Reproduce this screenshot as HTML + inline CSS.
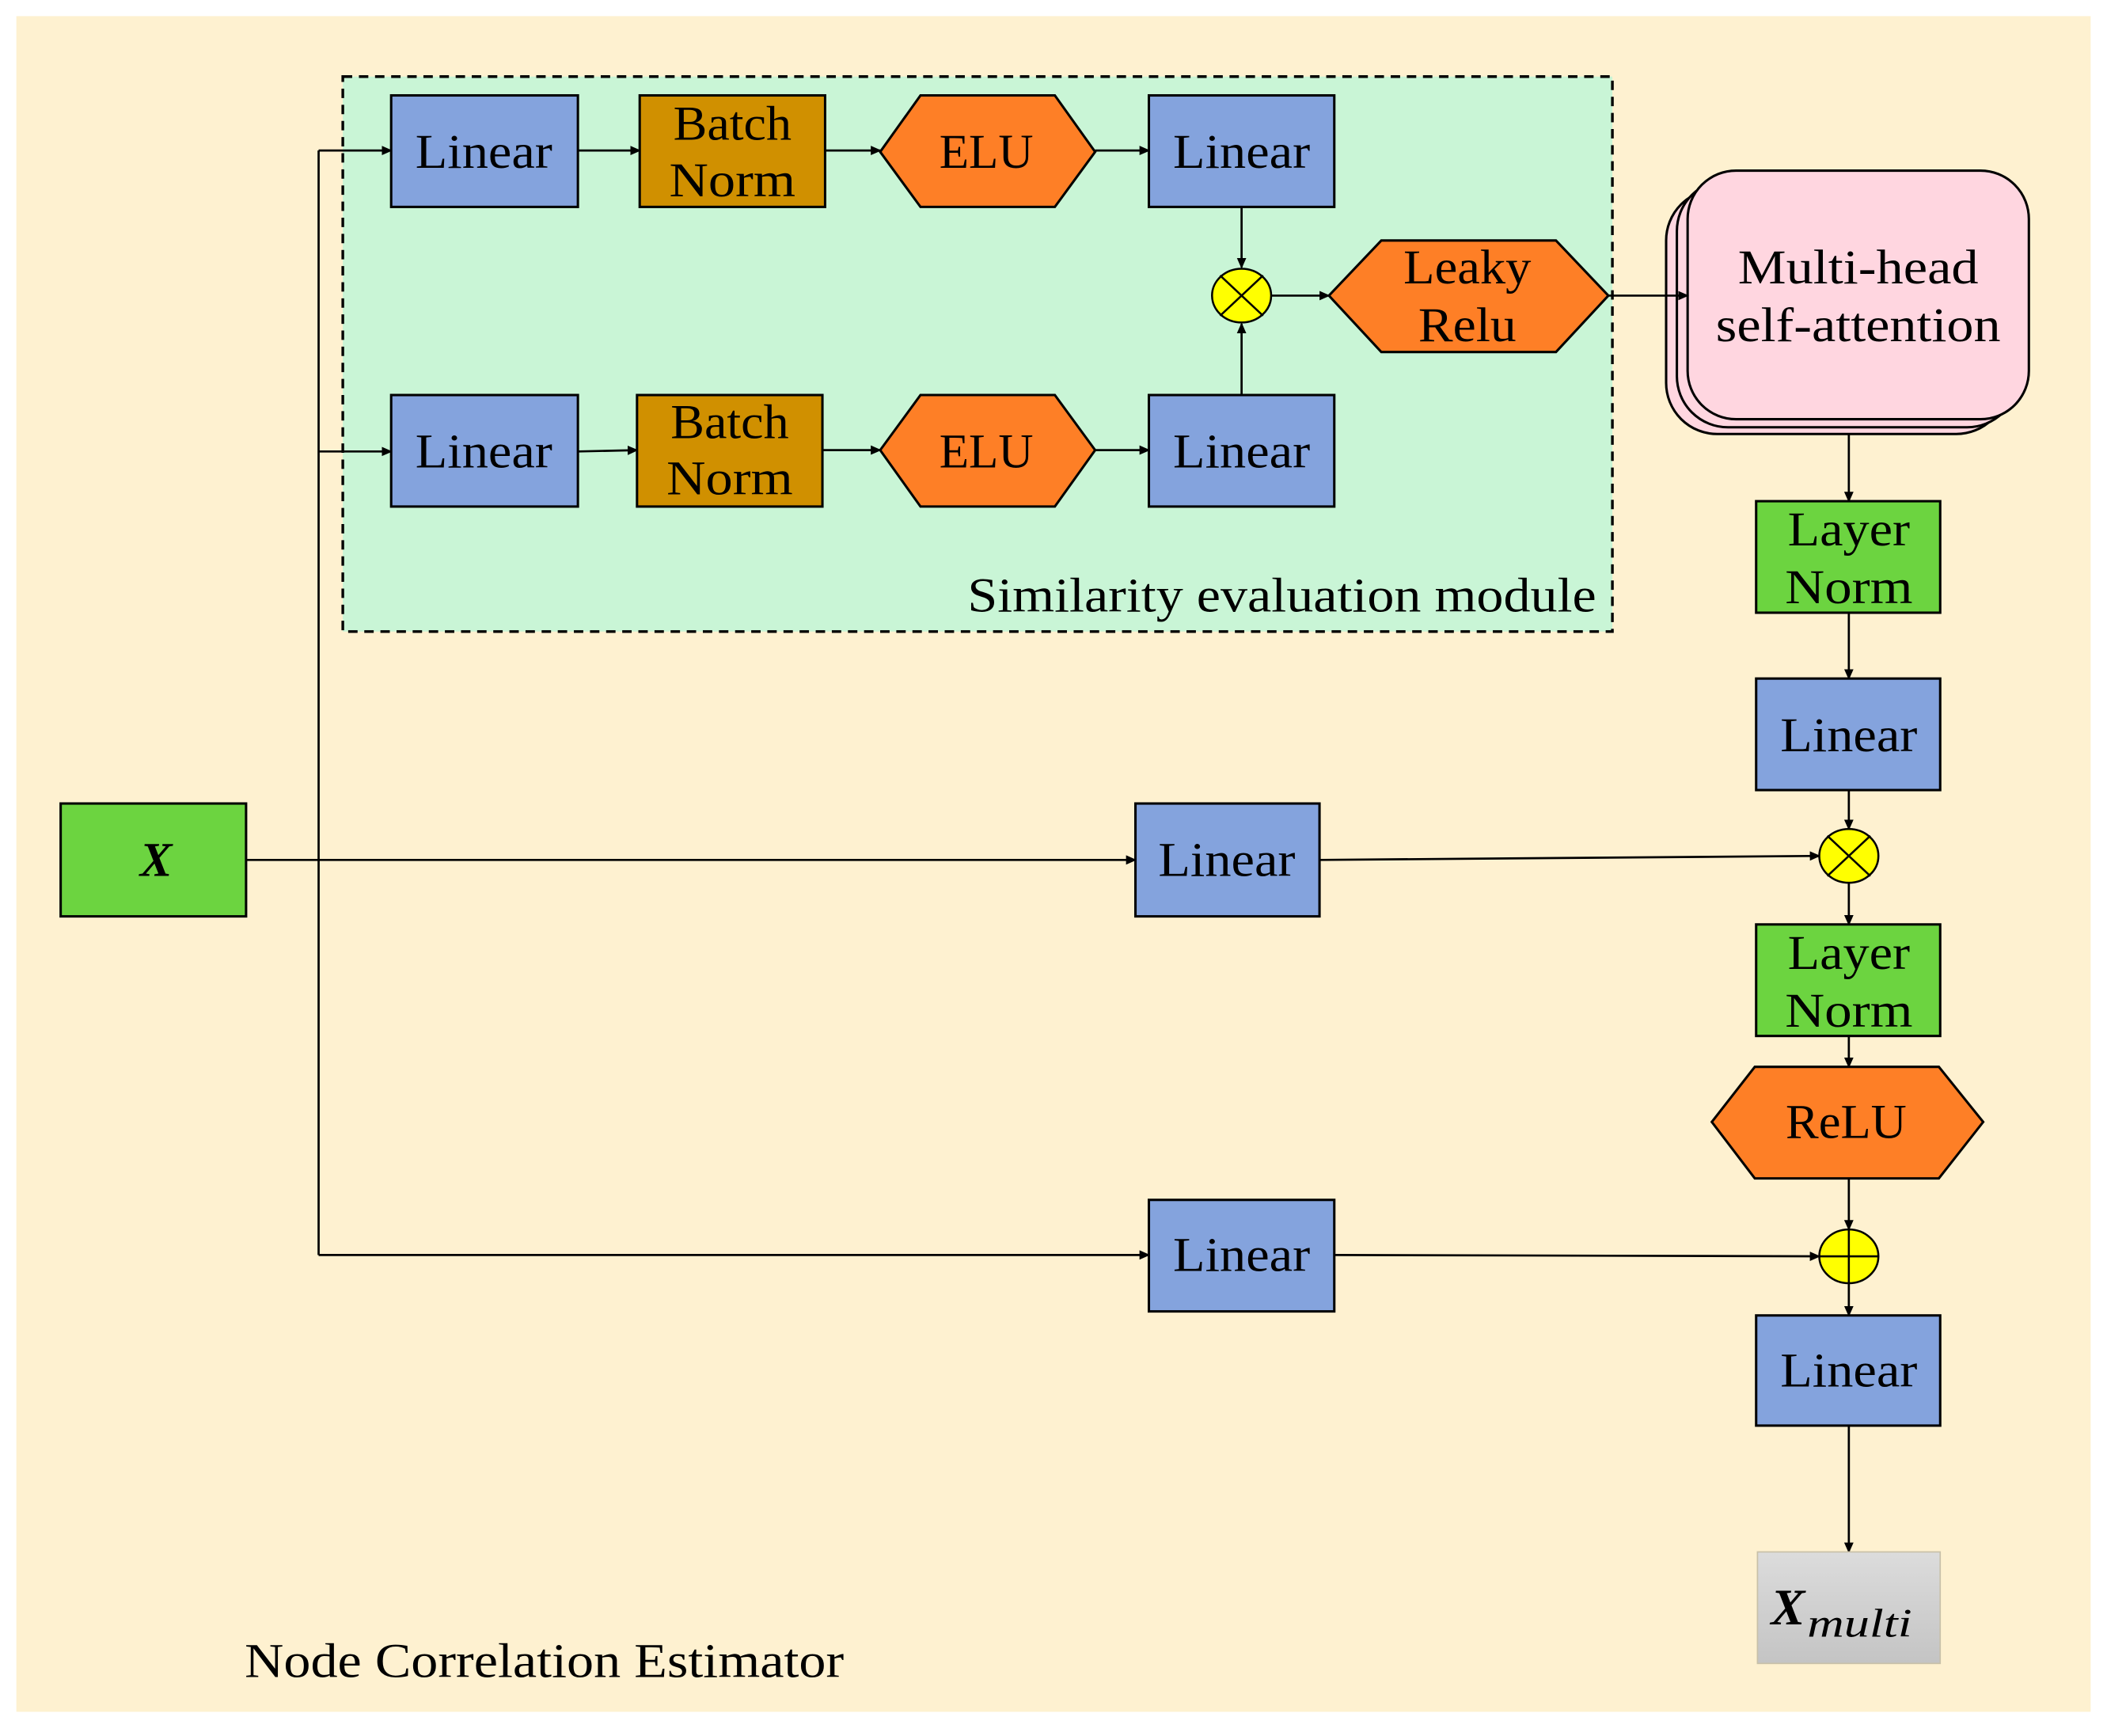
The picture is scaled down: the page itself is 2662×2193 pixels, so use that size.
<!DOCTYPE html>
<html><head><meta charset="utf-8">
<style>
html,body{margin:0;padding:0;background:#fff;}
svg{display:block;}
text{font-family:"Liberation Serif",serif;fill:#000;}
</style></head>
<body>
<svg width="2662" height="2193" viewBox="0 0 1568 1292" xmlns="http://www.w3.org/2000/svg">
<defs>
<marker id="a" markerWidth="8" markerHeight="8" refX="7" refY="4" orient="auto" markerUnits="userSpaceOnUse">
<path d="M0,0.5 L8,4 L0,7.5 Z" fill="#000"/>
</marker>
<linearGradient id="g" x1="0" y1="0" x2="0" y2="1">
<stop offset="0" stop-color="#dcdcdc"/><stop offset="1" stop-color="#c4c4c4"/>
</linearGradient>
</defs>
<rect x="0" y="0" width="1568" height="1292" fill="#fff"/>
<rect x="12" y="12" width="1544" height="1262" fill="#FEF1D0"/>
<rect x="255" y="57" width="945" height="413" fill="#C9F5D6" stroke="#000" stroke-width="2" stroke-dasharray="7,5"/>

<g stroke="#000" stroke-width="1.6" fill="none">
<line x1="237" y1="112" x2="237" y2="934"/>
<line x1="183" y1="640" x2="845" y2="640" marker-end="url(#a)"/>
<line x1="237" y1="112" x2="291" y2="112" marker-end="url(#a)"/>
<line x1="237" y1="336" x2="291" y2="336" marker-end="url(#a)"/>
<line x1="237" y1="934" x2="855" y2="934" marker-end="url(#a)"/>
<line x1="430" y1="112" x2="476" y2="112" marker-end="url(#a)"/>
<line x1="614" y1="112" x2="655" y2="112" marker-end="url(#a)"/>
<line x1="815" y1="112" x2="855" y2="112" marker-end="url(#a)"/>
<line x1="430" y1="336" x2="474" y2="335" marker-end="url(#a)"/>
<line x1="612" y1="335" x2="655" y2="335" marker-end="url(#a)"/>
<line x1="815" y1="335" x2="855" y2="335" marker-end="url(#a)"/>
<line x1="924" y1="154" x2="924" y2="199" marker-end="url(#a)"/>
<line x1="924" y1="294" x2="924" y2="241" marker-end="url(#a)"/>
<line x1="946" y1="220" x2="989" y2="220" marker-end="url(#a)"/>
<line x1="1376" y1="318" x2="1376" y2="373" marker-end="url(#a)"/>
<line x1="1376" y1="456" x2="1376" y2="505" marker-end="url(#a)"/>
<line x1="1376" y1="588" x2="1376" y2="617" marker-end="url(#a)"/>
<line x1="982" y1="640" x2="1354" y2="637" marker-end="url(#a)"/>
<line x1="1376" y1="657" x2="1376" y2="688" marker-end="url(#a)"/>
<line x1="1376" y1="771" x2="1376" y2="794" marker-end="url(#a)"/>
<line x1="1376" y1="877" x2="1376" y2="915" marker-end="url(#a)"/>
<line x1="993" y1="934" x2="1354" y2="935" marker-end="url(#a)"/>
<line x1="1376" y1="955" x2="1376" y2="979" marker-end="url(#a)"/>
<line x1="1376" y1="1061" x2="1376" y2="1155" marker-end="url(#a)"/>
</g>

<g stroke="#000" stroke-width="1.8">
<rect x="291" y="71" width="139" height="83" fill="#84A3DD"/>
<rect x="476" y="71" width="138" height="83" fill="#D09000"/>
<polygon points="655,113 685,71 785,71 815,113 785,154 685,154" fill="#FE7F26"/>
<rect x="855" y="71" width="138" height="83" fill="#84A3DD"/>
<rect x="291" y="294" width="139" height="83" fill="#84A3DD"/>
<rect x="474" y="294" width="138" height="83" fill="#D09000"/>
<polygon points="655,335 685,294 785,294 815,335 785,377 685,377" fill="#FE7F26"/>
<rect x="855" y="294" width="138" height="83" fill="#84A3DD"/>
<polygon points="989,220 1028,179 1158,179 1197,220 1158,262 1028,262" fill="#FE7F26"/>
<rect x="1240" y="141" width="254" height="182" rx="38" fill="#FFD6E0"/>
<rect x="1248" y="134" width="254" height="184" rx="38" fill="#FFD6E0"/>
<rect x="1256" y="127" width="254" height="185" rx="36" fill="#FFD6E0"/>
<rect x="1307" y="373" width="137" height="83" fill="#6CD440"/>
<rect x="1307" y="505" width="137" height="83" fill="#84A3DD"/>
<rect x="1307" y="688" width="137" height="83" fill="#6CD440"/>
<polygon points="1274,835 1306,794 1443,794 1476,835 1443,877 1306,877" fill="#FE7F26"/>
<rect x="1307" y="979" width="137" height="82" fill="#84A3DD"/>
<rect x="45" y="598" width="138" height="84" fill="#6CD440"/>
<rect x="845" y="598" width="137" height="84" fill="#84A3DD"/>
<rect x="855" y="893" width="138" height="83" fill="#84A3DD"/>
</g>
<line x1="1197" y1="220" x2="1256" y2="220" stroke="#000" stroke-width="1.6" marker-end="url(#a)"/>
<rect x="1308" y="1155" width="136" height="83" fill="url(#g)" stroke="#c8c0a8" stroke-width="1"/>

<g stroke="#000" stroke-width="1.5">
<ellipse cx="924" cy="220" rx="22" ry="20" fill="#FFFF00"/>
<line x1="908" y1="205" x2="940" y2="235"/><line x1="940" y1="205" x2="908" y2="235"/>
<ellipse cx="1376" cy="637" rx="22" ry="20" fill="#FFFF00"/>
<line x1="1360" y1="622" x2="1392" y2="652"/><line x1="1392" y1="622" x2="1360" y2="652"/>
<ellipse cx="1376" cy="935" rx="22" ry="20" fill="#FFFF00"/>
<line x1="1354" y1="935" x2="1398" y2="935"/><line x1="1376" y1="915" x2="1376" y2="955"/>
</g>

<g font-size="36" text-anchor="middle" lengthAdjust="spacingAndGlyphs">
<text x="360" y="125" textLength="102" lengthAdjust="spacingAndGlyphs">Linear</text>
<text x="545" y="104" textLength="88" lengthAdjust="spacingAndGlyphs">Batch</text><text x="545" y="146" textLength="94" lengthAdjust="spacingAndGlyphs">Norm</text>
<text x="734" y="125" textLength="70" lengthAdjust="spacingAndGlyphs">ELU</text>
<text x="924" y="125" textLength="102" lengthAdjust="spacingAndGlyphs">Linear</text>
<text x="360" y="348" textLength="102" lengthAdjust="spacingAndGlyphs">Linear</text>
<text x="543" y="326" textLength="88" lengthAdjust="spacingAndGlyphs">Batch</text><text x="543" y="368" textLength="94" lengthAdjust="spacingAndGlyphs">Norm</text>
<text x="734" y="348" textLength="70" lengthAdjust="spacingAndGlyphs">ELU</text>
<text x="924" y="348" textLength="102" lengthAdjust="spacingAndGlyphs">Linear</text>
<text x="1092" y="211" textLength="95" lengthAdjust="spacingAndGlyphs">Leaky</text><text x="1092" y="254" textLength="73" lengthAdjust="spacingAndGlyphs">Relu</text>
<text x="1383" y="211" textLength="179" lengthAdjust="spacingAndGlyphs">Multi-head</text><text x="1383" y="254" textLength="212" lengthAdjust="spacingAndGlyphs">self-attention</text>
<text x="1376" y="406" textLength="91" lengthAdjust="spacingAndGlyphs">Layer</text><text x="1376" y="449" textLength="95" lengthAdjust="spacingAndGlyphs">Norm</text>
<text x="1376" y="559" textLength="102" lengthAdjust="spacingAndGlyphs">Linear</text>
<text x="913" y="652" textLength="102" lengthAdjust="spacingAndGlyphs">Linear</text>
<text x="1376" y="721" textLength="91" lengthAdjust="spacingAndGlyphs">Layer</text><text x="1376" y="764" textLength="95" lengthAdjust="spacingAndGlyphs">Norm</text>
<text x="1374" y="847" textLength="90" lengthAdjust="spacingAndGlyphs">ReLU</text>
<text x="924" y="946" textLength="102" lengthAdjust="spacingAndGlyphs">Linear</text>
<text x="1376" y="1032" textLength="102" lengthAdjust="spacingAndGlyphs">Linear</text>
<text x="116" y="652" font-style="italic" font-weight="bold">X</text>
</g>
<text x="1318" y="1209" font-size="38" font-style="italic" font-weight="bold">X</text>
<text x="1345" y="1218" font-size="30" font-style="italic" textLength="78" lengthAdjust="spacingAndGlyphs">multi</text>
<text x="720" y="455" font-size="36" textLength="468" lengthAdjust="spacingAndGlyphs">Similarity evaluation module</text>
<text x="182" y="1248" font-size="36" textLength="446" lengthAdjust="spacingAndGlyphs">Node Correlation Estimator</text>
</svg>
</body></html>
